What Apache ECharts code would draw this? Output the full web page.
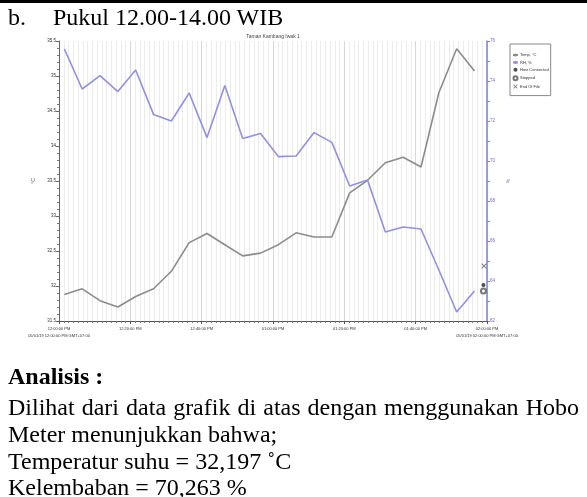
<!DOCTYPE html>
<html><head><meta charset="utf-8">
<script src="https://cdn.jsdelivr.net/npm/echarts@6/dist/echarts.min.js"></script>
<style>
html,body{margin:0;padding:0;background:#fff;width:587px;height:497px;overflow:hidden;font-family:"Liberation Serif","Times New Roman",serif;color:#000;}
#chart{position:absolute;left:0;top:0;width:587px;height:497px;}
.t{position:absolute;left:8px;white-space:nowrap;font-size:24px;line-height:27px;}
</style></head><body>
<div id="chart"></div>
<div style="position:absolute;left:0;top:0;width:587px;height:3px;background:#000"></div>
<div class="t" style="top:4px;">b.<span style="position:absolute;left:45px;">Pukul 12.00-14.00 WIB</span></div>
<div class="t" style="top:363px;font-weight:bold;">Analisis :</div>
<div class="t" style="top:394px;width:571px;white-space:normal;text-align:justify;text-align-last:justify;">Dilihat dari data grafik di atas dengan menggunakan Hobo</div>
<div class="t" style="top:421px;">Meter menunjukkan bahwa;</div>
<div class="t" style="top:448px;">Temperatur suhu = 32,197 ˚C</div>
<div class="t" style="top:474px;">Kelembaban = 70,263 %</div>
<script>
// ---- data ----
const chartTitle = 'Taman Kambang Iwak 1';
const times = ['12:01:30','12:06:30','12:11:30','12:16:30','12:21:30','12:26:30','12:31:30','12:36:30',
  '12:41:30','12:46:30','12:51:30','12:56:30','13:01:30','13:06:30','13:11:30','13:16:30',
  '13:21:30','13:26:30','13:31:30','13:36:30','13:41:30','13:46:30','13:51:30','13:56:30'];
const tempC = [31.88,31.96,31.79,31.70,31.85,31.96,32.21,32.62,32.75,32.59,32.43,32.47,
  32.59,32.76,32.70,32.70,33.33,33.51,33.76,33.84,33.70,34.76,35.39,35.07];
const rhPct = [75.6,73.6,74.27,73.47,74.55,72.33,72.0,73.4,71.17,73.77,71.13,71.38,
  70.22,70.25,71.42,70.93,68.75,69.05,66.45,66.7,66.6,64.55,62.45,63.5];
const hostConnected = [['13:59:00', 63.8]];
const stopped = [['13:59:00', 63.5]];
const endOfFile = [['13:59:10', 64.75]];
const tickLabels = ['12:00:00 PM','12:20:00 PM','12:40:00 PM','01:00:00 PM','01:20:00 PM','01:40:00 PM','02:00:00 PM'];
const dateLabels = ['05/01/19 12:00:00 PM GMT+07:00','','','','','','05/01/19 02:00:00 PM GMT+07:00'];
const startTime = '12:00:00';
// ---------------
function toMin(t){const p=t.split(':').map(Number);const s=startTime.split(':').map(Number);
  return (p[0]*60+p[1]+p[2]/60)-(s[0]*60+s[1]+s[2]/60);}
const pair=(ts,vs)=>ts.map((t,i)=>[toMin(t),vs[i]]);
const evt=arr=>arr.map(d=>[toMin(d[0]),d[1]]);
const xPath='path://M0,0L1.5,0L5,3.5L8.5,0L10,0L10,1.5L6.5,5L10,8.5L10,10L8.5,10L5,6.5L1.5,10L0,10L0,8.5L3.5,5L0,1.5Z';
const chart=echarts.init(document.getElementById('chart'),null,{renderer:'canvas'});
const F='"Liberation Sans", Arial, sans-serif';
chart.setOption({
  animation:false,
  backgroundColor:'transparent',
  textStyle:{fontFamily:F},
  title:{text:chartTitle,left:273,top:34,textAlign:'center',padding:0,
    textStyle:{fontSize:5,fontWeight:'normal',color:'#444',fontFamily:F}},
  grid:{left:59,right:100,top:41,bottom:176,containLabel:false},
  legend:{orient:'vertical',left:510,top:44,padding:[9,2,7,2],itemGap:3.4,itemWidth:5,itemHeight:4,
    borderColor:'#888',borderWidth:1,backgroundColor:'#fff',
    textStyle:{fontSize:4,color:'#333',fontFamily:F,padding:[0,0,0,-3]},
    data:[{name:'Temp, °C'},{name:'RH, %'},{name:'Host Connected',icon:'circle'},
      {name:'Stopped',icon:'emptyCircle'},{name:'End Of File',icon:xPath}]},
  xAxis:{type:'value',min:0,max:120,interval:20,
    axisLine:{lineStyle:{color:'#555',width:1}},
    axisTick:{show:true,length:3,lineStyle:{color:'#555'}},
    minorTick:{show:true,splitNumber:15,length:2,lineStyle:{color:'#777'}},
    splitLine:{show:true,lineStyle:{color:'#d8d8d8',width:1}},
    minorSplitLine:{show:true,lineStyle:{color:'#ececec',width:1}},
    axisLabel:{fontSize:4,color:'#333',margin:4,lineHeight:7,fontFamily:F,
      formatter:(v)=>{const i=Math.round(v/20);return dateLabels[i]?tickLabels[i]+'\n'+dateLabels[i]:tickLabels[i];}}},
  yAxis:[
    {type:'value',min:31.5,max:35.5,interval:0.5,position:'left',
      name:'°C',nameLocation:'middle',nameGap:14,nameRotate:90,
      nameTextStyle:{fontSize:5,color:'#444',fontFamily:F},
      axisLine:{show:true,lineStyle:{color:'#666',width:1}},
      axisTick:{show:true,length:3,lineStyle:{color:'#666'}},
      minorTick:{show:true,splitNumber:5,length:2,lineStyle:{color:'#777'}},
      splitLine:{show:false},
      axisLabel:{fontSize:4.5,color:'#333',margin:3,fontFamily:F,formatter:v=>String(v)}},
    {type:'value',min:62,max:76,interval:2,position:'right',
      name:'%',nameLocation:'middle',nameGap:13,nameRotate:90,
      nameTextStyle:{fontSize:5,color:'#6b6be0',fontFamily:F},
      axisLine:{show:true,lineStyle:{color:'#8080ea',width:1.5}},
      axisTick:{show:true,length:3,lineStyle:{color:'#8080ea'}},
      minorTick:{show:true,splitNumber:2,length:3,lineStyle:{color:'#8080ea'}},
      splitLine:{show:false},
      axisLabel:{fontSize:4.5,color:'#6b6be0',margin:3,fontFamily:F}}
  ],
  series:[
    {name:'Temp, °C',type:'line',yAxisIndex:0,data:pair(times,tempC),symbol:'none',
      lineStyle:{color:'#8c8c8c',width:1.6},itemStyle:{color:'#8c8c8c'}},
    {name:'RH, %',type:'line',yAxisIndex:1,data:pair(times,rhPct),symbol:'none',
      lineStyle:{color:'#9090e8',width:1.6},itemStyle:{color:'#9090e8'}},
    {name:'Host Connected',type:'scatter',yAxisIndex:1,data:evt(hostConnected),symbol:'circle',symbolSize:4,
      itemStyle:{color:'#222'}},
    {name:'Stopped',type:'scatter',yAxisIndex:1,data:evt(stopped),symbol:'emptyCircle',symbolSize:5,
      itemStyle:{color:'#555',borderWidth:0.8}},
    {name:'End Of File',type:'scatter',yAxisIndex:1,data:evt(endOfFile),symbol:xPath,symbolSize:5,
      itemStyle:{color:'#666'}}
  ]
});
</script>
</body></html>
